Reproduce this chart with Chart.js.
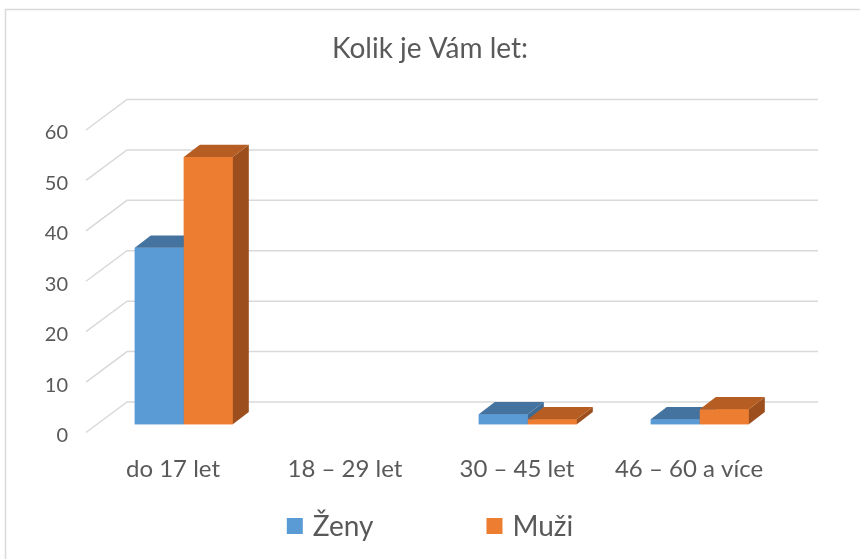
<!DOCTYPE html>
<html>
<head>
<meta charset="utf-8">
<script src="https://cdn.jsdelivr.net/npm/chart.js@4/dist/chart.umd.min.js"></script>
<style>
    html, body { margin: 0; padding: 0; background: #fff; }
    #wrap { width: 860px; height: 559px; }
</style>
</head>
<body>
<div id="wrap"><canvas id="age-chart" width="860" height="559"></canvas></div>
<script>
const categories = ['do 17 let', '18 – 29 let', '30 – 45 let', '46 – 60 a více'];
const zeny = [35, 0, 2, 1];
const muzi = [53, 0, 1, 3];
const yMin = 0;
const yMax = 60;
const yStep = 10;

const TEXT = '#595959';
const GRID = '#d9d9d9';
const FONT = "Lato, 'Open Sans', sans-serif";

// oblique depth of the floor, and where the bars sit inside it
const DEPTH = { x: 40, y: -30.5 };
const BAR_FROM = 0.27;
const BAR_TO = 0.67;

const faceColors = [
    { front: '#5b9bd5', top: '#44739f', side: '#3e6a94' },
    { front: '#ed7d31', top: '#b65d23', side: '#9c4f1d' },
];

const frame = {
    id: 'frame',
    beforeDraw(chart) {
        const ctx = chart.ctx;
        ctx.save();
        ctx.fillStyle = '#fff';
        ctx.fillRect(0, 0, chart.width, chart.height);
        ctx.strokeStyle = GRID;
        ctx.lineWidth = 1.5;
        ctx.strokeRect(5.5, 9.5, chart.width + 20, chart.height + 20);
        ctx.restore();
    },
};

function poly(ctx, color, pts) {
    ctx.fillStyle = color;
    ctx.beginPath();
    ctx.moveTo(pts[0][0], pts[0][1]);
    pts.slice(1).forEach((p) => ctx.lineTo(p[0], p[1]));
    ctx.closePath();
    ctx.fill();
}

const box3d = {
    id: 'box3d',
    beforeDatasetsDraw(chart) {
        const ctx = chart.ctx;
        const area = chart.chartArea;
        const y = chart.scales.y;
        ctx.save();
        ctx.strokeStyle = GRID;
        ctx.lineWidth = 1.5;
        y.ticks.forEach((t) => {
            const py = y.getPixelForValue(t.value);
            ctx.beginPath();
            ctx.moveTo(area.left - 1, py);
            ctx.lineTo(area.left + DEPTH.x, py + DEPTH.y);
            ctx.lineTo(area.right + DEPTH.x + 3, py + DEPTH.y);
            ctx.stroke();
        });
        ctx.restore();

        ctx.save();
        ctx.translate(DEPTH.x * BAR_FROM, DEPTH.y * BAR_FROM);
    },
    afterDatasetsDraw(chart) {
        // the library draws the last dataset first, so redraw every box
        // category by category, left to right, with its top and side faces
        const ctx = chart.ctx;
        const dx = DEPTH.x * (BAR_TO - BAR_FROM);
        const dy = DEPTH.y * (BAR_TO - BAR_FROM);
        categories.forEach((c, i) => {
            chart.data.datasets.forEach((ds, d) => {
                if (!ds.data[i]) {
                    return;
                }
                const bar = chart.getDatasetMeta(d).data[i];
                const { x, y, base, width } = bar.getProps(['x', 'y', 'base', 'width'], true);
                const l = x - width / 2;
                const r = x + width / 2;
                const col = faceColors[d];
                poly(ctx, col.front, [[l, y], [r, y], [r, base], [l, base]]);
                poly(ctx, col.side, [[r, y], [r + dx, y + dy], [r + dx, base + dy], [r, base]]);
                poly(ctx, col.top, [[l, y], [l + dx, y + dy], [r + dx, y + dy], [r, y]]);
            });
        });
        ctx.restore();
    },
};

const legendBottom = {
    id: 'legendBottom',
    afterDraw(chart) {
        const ctx = chart.ctx;
        const size = 16;
        const gapText = 10;
        const gapItem = 113;
        const cy = 526;
        ctx.save();
        ctx.font = '28px ' + FONT;
        ctx.textBaseline = 'middle';
        const items = chart.data.datasets.map((ds) => ({
            label: ds.label,
            color: ds.backgroundColor,
            w: size + gapText + ctx.measureText(ds.label).width,
        }));
        const total = items.reduce((s, it) => s + it.w, 0) + gapItem * (items.length - 1);
        let x = chart.width / 2 - total / 2;
        items.forEach((it) => {
            ctx.fillStyle = it.color;
            ctx.fillRect(x, cy - size / 2, size, size);
            ctx.fillStyle = TEXT;
            ctx.fillText(it.label, x + size + gapText, cy + 1);
            x += it.w + gapItem;
        });
        ctx.restore();
    },
};

new Chart(document.getElementById('age-chart'), {
    type: 'bar',
    data: {
        labels: categories,
        datasets: [
            { label: 'Ženy', data: zeny, backgroundColor: faceColors[0].front, clip: false },
            { label: 'Muži', data: muzi, backgroundColor: faceColors[1].front, clip: false },
        ],
    },
    options: {
        responsive: false,
        animation: false,
        events: [],
        layout: { padding: 0 },
        datasets: {
            bar: { categoryPercentage: 0.57, barPercentage: 1, borderWidth: 0 },
        },
        plugins: {
            legend: { display: false },
            tooltip: { enabled: false },
            title: {
                display: true,
                text: 'Kolik je Vám let:',
                color: TEXT,
                font: { family: FONT, size: 28, weight: 'normal' },
                padding: { top: 32, bottom: 64.4 },
            },
        },
        scales: {
            x: {
                grid: { display: false, drawTicks: false },
                border: { display: false },
                ticks: { color: TEXT, font: { family: FONT, size: 24 }, padding: 22, maxRotation: 0 },
                afterFit(scale) { scale.height = 126.5; },
            },
            y: {
                min: yMin,
                max: yMax,
                grid: { display: false, drawTicks: false },
                border: { display: false },
                ticks: { stepSize: yStep, color: TEXT, font: { family: FONT, size: 20 }, padding: 19, labelOffset: 3 },
                afterFit(scale) { scale.width = 87; },
            },
            // empty right-hand axis that only reserves the space right of the floor
            spacer: {
                position: 'right',
                grid: { display: false, drawTicks: false },
                border: { display: false },
                ticks: { display: false },
                afterFit(scale) { scale.width = 85; },
            },
        },
    },
    plugins: [frame, box3d, legendBottom],
});
</script>
</body>
</html>
